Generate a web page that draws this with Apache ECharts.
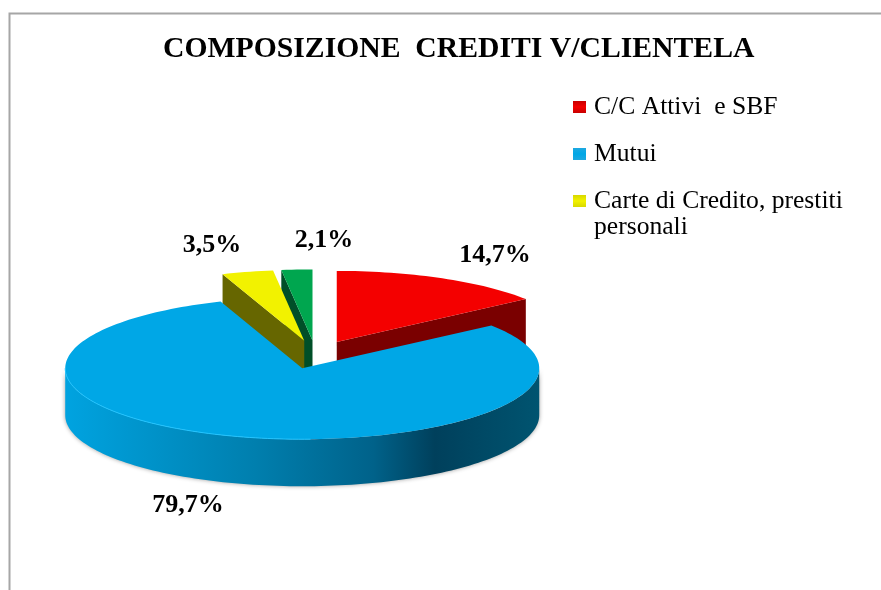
<!DOCTYPE html>
<html>
<head>
<meta charset="utf-8">
<style>
  html, body { margin: 0; padding: 0; background: #fff; }
  #chart { width: 881px; height: 590px; }
</style>
<script src="https://cdn.jsdelivr.net/npm/echarts@6/dist/echarts.min.js"></script>
</head>
<body>
<div id="chart"></div>
<script>
const chartTitle = 'COMPOSIZIONE  CREDITI V/CLIENTELA';
const categories = ['C/C Attivi  e SBF', 'Mutui', 'Carte di Credito, prestiti\npersonali', 'Altri'];
const values = [14.7, 79.7, 3.5, 2.1];

const topColors = ['#f40000', '#00a7e6', '#f2f200', '#00a64f'];
const wallColors = ['#7a0000', '#00506e', '#666600', '#004f28'];
const iconTints = ['#c80000', '#1ea8e0', '#d8d800'];
const serifFont = '"Liberation Serif", "Times New Roman", serif';

// ellipse of the tilted pie, all slices pulled out by the same fraction
const cx = 315.6, cy = 354.6, rx = 237, ry = 71, depth = 47, explode = 0.2;
// label centres, per slice
const labelSpots = [[495, 255], [188, 505], [212, 245], [324, 240]];

const rad = (deg) => deg * Math.PI / 180;

function ring(apex, deg, dy) {
  return [apex[0] + rx * Math.sin(rad(deg)), apex[1] - ry * Math.cos(rad(deg)) + (dy || 0)];
}

function arcPoints(apex, from, to, dy) {
  const pts = [];
  const steps = Math.max(2, Math.ceil((to - from) / 1.5));
  for (let i = 0; i <= steps; i++) {
    pts.push(ring(apex, from + (to - from) * i / steps, dy));
  }
  return pts;
}

function renderSlice(idx) {
  return function (params, api) {
    const start = api.value(1) / 100 * 360;
    const end = (api.value(1) + api.value(0)) / 100 * 360;
    const mid = (start + end) / 2;
    const apex = [
      cx + explode * rx * Math.sin(rad(mid)),
      cy - explode * ry * Math.cos(rad(mid))
    ];
    const children = [];

    // cut faces turned towards the viewer
    const walls = [];
    if (start > 180 && start < 360) walls.push(start);
    if (end > 0 && end < 180) walls.push(end);
    walls.forEach((deg) => {
      const edge = ring(apex, deg);
      children.push({
        type: 'polygon',
        shape: { points: [apex, edge, [edge[0], edge[1] + depth], [apex[0], apex[1] + depth]] },
        style: { fill: wallColors[idx] }
      });
    });

    // outer rim, only the front half shows
    const rimFrom = Math.max(start, 90), rimTo = Math.min(end, 270);
    if (rimFrom < rimTo) {
      const outer = arcPoints(apex, rimFrom, rimTo);
      const lower = arcPoints(apex, rimFrom, rimTo, depth).reverse();
      children.push({
        type: 'polygon',
        shape: { points: outer.concat(lower) },
        style: {
          fill: new echarts.graphic.LinearGradient(0, 0, 1, 0, [
            { offset: 0, color: '#00a3e0' },
            { offset: 0.4, color: '#007fae' },
            { offset: 0.65, color: '#00628a' },
            { offset: 0.78, color: '#00405c' },
            { offset: 1, color: '#005470' }
          ]),
          shadowBlur: 4,
          shadowColor: 'rgba(90,90,90,0.6)'
        }
      });
    }

    children.push({
      type: 'polygon',
      shape: { points: [apex].concat(arcPoints(apex, start, end)) },
      style: { fill: topColors[idx] }
    });

    if (rimFrom < rimTo) {
      children.push({
        type: 'polyline',
        shape: { points: arcPoints(apex, 178, rimTo) },
        style: { stroke: '#22c4ff', lineWidth: 1, fill: null }
      });
    }

    children.push({
      type: 'text',
      style: {
        text: api.value(0).toFixed(1).replace('.', ',') + '%',
        x: labelSpots[idx][0],
        y: labelSpots[idx][1],
        align: 'center',
        verticalAlign: 'middle',
        fill: '#000',
        font: 'bold 26px ' + serifFont
      }
    });
    return { type: 'group', children };
  };
}

let running = 0;
const starts = values.map((v) => { const s = running; running += v; return s; });
// big slice in front, yellow lies over the green cut face
const seriesZ = [2, 5, 3, 2];

const series = categories.map((name, i) => ({
  type: 'custom',
  name,
  coordinateSystem: 'none',
  z: seriesZ[i],
  itemStyle: { color: topColors[i] },
  renderItem: renderSlice(i),
  data: [[values[i], starts[i]]]
}));

function legendEntry(i) {
  return {
    name: categories[i],
    itemStyle: {
      color: new echarts.graphic.LinearGradient(0, 0, 0, 1, [
        { offset: 0, color: iconTints[i] },
        { offset: 0.5, color: topColors[i] },
        { offset: 1, color: iconTints[i] }
      ])
    }
  };
}

const legendBase = {
  orient: 'vertical',
  left: 573,
  padding: 0,
  icon: 'rect',
  itemWidth: 13,
  itemHeight: 12,
  align: 'left',
  selectedMode: false,
  textStyle: { fontFamily: serifFont, fontSize: 25.6, color: '#000', lineHeight: 26, padding: [0, 0, 0, 3] }
};

const chart = echarts.init(document.getElementById('chart'));
chart.setOption({
  animation: false,
  backgroundColor: '#fff',
  title: {
    text: chartTitle,
    left: 158,
    top: 29,
    textStyle: { fontFamily: serifFont, fontWeight: 'bold', fontSize: 29.7, color: '#000' }
  },
  legend: [
    Object.assign({}, legendBase, { top: 94, itemGap: 21, data: [legendEntry(0), legendEntry(1)] }),
    // blank first line keeps the marker level with the first text line
    Object.assign({}, legendBase, { top: 162, formatter: (name) => '\n' + name, data: [legendEntry(2)] })
  ],
  graphic: [{
    type: 'polyline',
    silent: true,
    shape: { points: [[9.5, 590], [9.5, 13.5], [881, 13.5]] },
    style: { stroke: '#a6a6a6', lineWidth: 2, fill: null }
  }],
  series
});
</script>
</body>
</html>
